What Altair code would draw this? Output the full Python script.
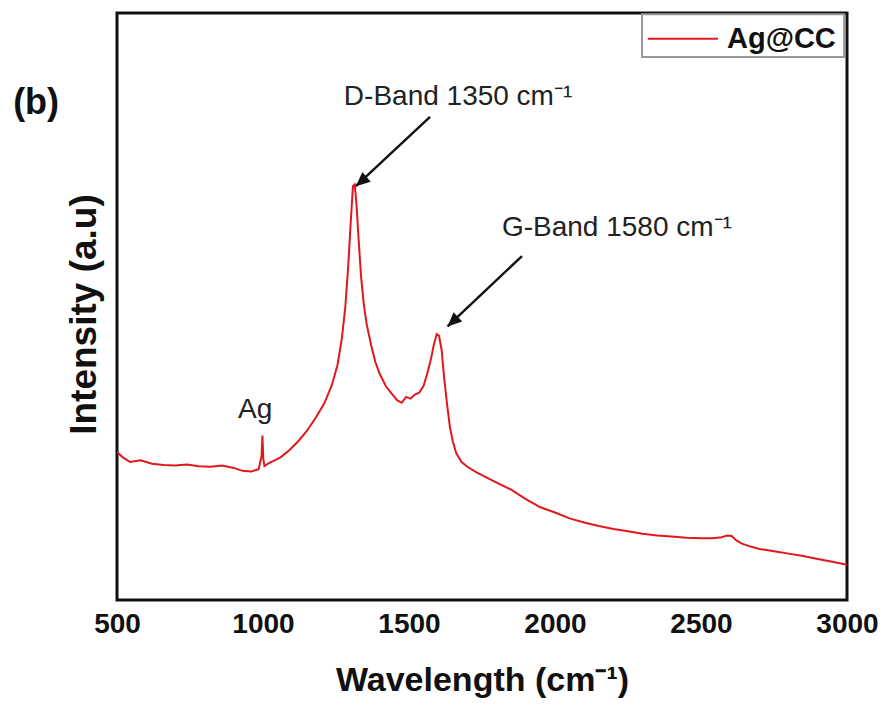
import altair as alt
import pandas as pd

wavenumber = [500, 520, 545, 580, 620, 660, 700, 740, 780, 820, 860, 900, 930, 960, 985, 995, 998, 1001, 1005,
              1020, 1040, 1060, 1090, 1120, 1150, 1180, 1210, 1235, 1255, 1270, 1282, 1292, 1300, 1308, 1314,
              1320, 1328, 1336, 1345, 1355, 1370, 1385, 1400, 1420, 1440, 1460, 1475, 1490, 1505, 1520, 1535,
              1550, 1562, 1575, 1585, 1595, 1603, 1612, 1620, 1630, 1640, 1650, 1662, 1680, 1700, 1730, 1760,
              1800, 1850, 1900, 1950, 2000, 2050, 2100, 2150, 2200, 2250, 2300, 2350, 2400, 2450, 2500, 2540,
              2570, 2590, 2605, 2620, 2640, 2670, 2700, 2750, 2800, 2850, 2900, 2950, 3000]
intensity = [25.2, 24.3, 23.5, 23.8, 23.2, 23.0, 22.9, 23.1, 22.8, 22.7, 22.9, 22.5, 22.0, 21.9, 22.3, 24.5, 28.0,
             24.0, 22.8, 23.3, 23.8, 24.3, 25.5, 27.0, 28.8, 31.0, 33.5, 36.5, 40.0, 44.5, 50.0, 57.0, 64.0, 70.5,
             70.8, 67.5, 61.0, 55.0, 50.5, 47.0, 43.5, 40.5, 38.5, 36.5, 35.2, 34.0, 33.6, 34.6, 34.3, 35.0, 35.3,
             36.5, 38.5, 41.0, 43.5, 45.3, 45.0, 42.5, 38.0, 33.5, 29.5, 27.0, 25.0, 23.5, 22.7, 21.8, 21.0, 20.0,
             18.8, 17.2, 15.8, 14.9, 13.9, 13.2, 12.6, 12.1, 11.7, 11.3, 11.0, 10.8, 10.6, 10.5, 10.5, 10.7, 11.0,
             10.9, 10.2, 9.6, 9.1, 8.7, 8.3, 7.9, 7.5, 7.0, 6.5, 6.0]
series_name = ["Ag@CC"]
line_color = "#e0181c"

# annotation texts and anchors (data units)
label_text = ["D-Band 1350 cm\u207b\u00b9", "G-Band 1580 cm\u207b\u00b9", "Ag"]
label_x = [1668, 2212, 973]
label_y = [85.7, 63.4, 32.4]

arrow_x1 = [1572, 1887]
arrow_y1 = [82.3, 58.6]
arrow_x2 = [1318, 1632]
arrow_y2 = [70.5, 46.6]
arrow_angle = [229, 227]

panel_text = ["(b)"]
panel_x = [223]
panel_y = [84.7]

# legend box (data units)
legend_box_x = [2298, 2990]
legend_box_y = [92.5, 99.8]
legend_line_x = [2318, 2558]
legend_line_y = [95.6]
legend_text_x = [2589]

df = pd.DataFrame({"x": wavenumber, "y": intensity})
lab = pd.DataFrame({"t": label_text, "x": label_x, "y": label_y})
arr = pd.DataFrame({"x": arrow_x1, "y": arrow_y1, "x2": arrow_x2, "y2": arrow_y2, "a": arrow_angle})
pan = pd.DataFrame({"t": panel_text, "x": panel_x, "y": panel_y})
lbox = pd.DataFrame({"x": [legend_box_x[0]], "x2": [legend_box_x[1]],
                     "y": [legend_box_y[0]], "y2": [legend_box_y[1]]})
lline = pd.DataFrame({"x": [legend_line_x[0]], "x2": [legend_line_x[1]], "y": legend_line_y})
ltext = pd.DataFrame({"t": series_name, "x": legend_text_x, "y": legend_line_y})

xs = alt.Scale(domain=[500, 3000], nice=False)
ys = alt.Scale(domain=[0, 100], nice=False)

line = alt.Chart(df).mark_line(strokeWidth=2, clip=True, color=line_color).encode(
    x=alt.X("x:Q", scale=xs, title="Wavelength (cm\u207b\u00b9)",
            axis=alt.Axis(values=[500, 1000, 1500, 2000, 2500, 3000], format="d", ticks=False, domain=False,
                          grid=False, labelFontSize=28, labelFontWeight="bold", labelPadding=10,
                          labelColor="#111", titleFontSize=34, titleFontWeight="bold", titlePadding=25,
                          titleColor="#111", labelFlush=False)),
    y=alt.Y("y:Q", scale=ys, title="Intensity (a.u)",
            axis=alt.Axis(labels=False, ticks=False, domain=False, grid=False, titleY=301,
                          titleFontSize=37, titleFontWeight="bold", titlePadding=14, titleColor="#111")),
)

texts = alt.Chart(lab).mark_text(fontSize=28, color="#222", align="center", baseline="middle").encode(
    x=alt.X("x:Q", scale=xs), y=alt.Y("y:Q", scale=ys), text="t:N")

rules = alt.Chart(arr).mark_rule(strokeWidth=2.4, color="#111").encode(
    x=alt.X("x:Q", scale=xs), y=alt.Y("y:Q", scale=ys), x2="x2:Q", y2="y2:Q")

heads = alt.Chart(arr).mark_point(shape="M0,0 L-0.45,1 L0.45,1 Z", filled=True, color="#111",
                                  size=800, opacity=1).encode(
    x=alt.X("x2:Q", scale=xs), y=alt.Y("y2:Q", scale=ys), angle=alt.Angle("a:Q", scale=None))

panel = alt.Chart(pan).mark_text(fontSize=36, fontWeight="bold", color="#111", align="center",
                                 baseline="middle").encode(
    x=alt.X("x:Q", scale=xs), y=alt.Y("y:Q", scale=ys), text="t:N")

box = alt.Chart(lbox).mark_rect(fill="white", stroke="#999", strokeWidth=2).encode(
    x=alt.X("x:Q", scale=xs), x2="x2:Q", y=alt.Y("y:Q", scale=ys), y2="y2:Q")
bline = alt.Chart(lline).mark_rule(strokeWidth=2, color=line_color).encode(
    x=alt.X("x:Q", scale=xs), x2="x2:Q", y=alt.Y("y:Q", scale=ys))
btext = alt.Chart(ltext).mark_text(fontSize=29, fontWeight="bold", color="#111", align="left",
                                   baseline="middle").encode(
    x=alt.X("x:Q", scale=xs), y=alt.Y("y:Q", scale=ys), text="t:N")

chart = alt.layer(line, rules, heads, texts, panel, box, bline, btext).properties(
    width=730, height=587,
    autosize=alt.AutoSizeParams(type="none"),
    padding={"left": 109, "top": 5, "right": 33, "bottom": 100},
).configure(font="Arial").configure_view(stroke="#111", strokeWidth=3)

chart.save("out.html", embed_options={"renderer": "svg", "actions": False})
